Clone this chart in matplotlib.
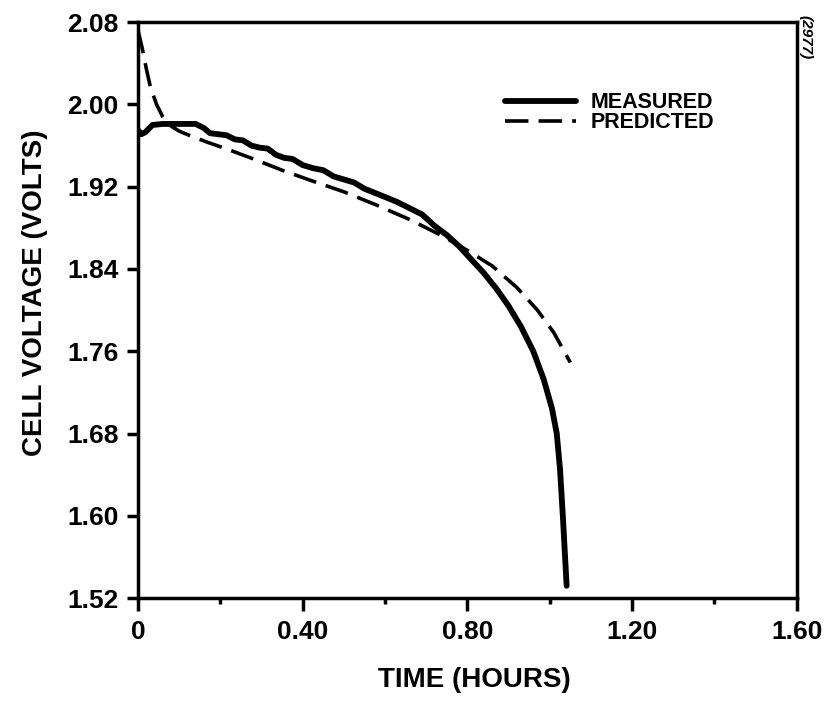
import matplotlib.pyplot as plt
from matplotlib.ticker import MultipleLocator

plt.rcParams['font.family'] = ['Liberation Sans', 'DejaVu Sans']
plt.rcParams['font.weight'] = 'bold'

# measured cell voltage
t_meas = [0, 0.008, 0.018, 0.035, 0.06, 0.10, 0.14, 0.16, 0.175, 0.195, 0.215, 0.235,
          0.255, 0.275, 0.295, 0.315, 0.335, 0.355, 0.375, 0.40, 0.425, 0.45, 0.475, 0.50,
          0.525, 0.55, 0.575, 0.60, 0.63, 0.66, 0.69, 0.72, 0.75, 0.78, 0.81, 0.84,
          0.87, 0.90, 0.93, 0.96, 0.985, 1.005, 1.017, 1.025, 1.032, 1.041]
v_meas = [1.975, 1.971, 1.973, 1.980, 1.981, 1.981, 1.981, 1.977, 1.972, 1.971, 1.970, 1.966,
          1.965, 1.960, 1.958, 1.957, 1.951, 1.948, 1.947, 1.941, 1.938, 1.936, 1.930, 1.927,
          1.924, 1.918, 1.914, 1.910, 1.905, 1.899, 1.893, 1.882, 1.873, 1.862, 1.849, 1.836,
          1.821, 1.804, 1.784, 1.760, 1.733, 1.705, 1.680, 1.645, 1.598, 1.532]

# model prediction
t_pred = [0, 0.01, 0.02, 0.03, 0.045, 0.06, 0.08, 0.10, 0.13, 0.17, 0.22, 0.28,
          0.35, 0.42, 0.50, 0.58, 0.66, 0.74, 0.80, 0.86, 0.92, 0.97, 1.01, 1.05]
v_pred = [2.072, 2.055, 2.035, 2.017, 2.000, 1.988, 1.979, 1.974, 1.969, 1.963, 1.956, 1.947,
          1.936, 1.926, 1.915, 1.902, 1.888, 1.872, 1.858, 1.843, 1.822, 1.800, 1.778, 1.749]

x_ticks = [0, 0.4, 0.8, 1.2, 1.6]
x_labels = ['0', '0.40', '0.80', '1.20', '1.60']
y_ticks = [1.52, 1.60, 1.68, 1.76, 1.84, 1.92, 2.00, 2.08]

fig = plt.figure(figsize=(8.24, 7.02), dpi=100)
ax = fig.add_axes([0.1675, 0.148, 0.7995, 0.8205])

ax.plot(t_meas, v_meas, color='black', lw=4.2, solid_joinstyle='round',
        solid_capstyle='round', label='MEASURED')
ax.plot(t_pred, v_pred, color='black', lw=2.6, dashes=(6.5, 2.8), label='PREDICTED')

ax.set_xlim(0, 1.6)
ax.set_ylim(1.52, 2.08)
ax.set_xticks(x_ticks)
ax.set_xticklabels(x_labels)
ax.xaxis.set_minor_locator(MultipleLocator(0.2))
ax.set_yticks(y_ticks)
ax.set_yticklabels([f'{y:.2f}' for y in y_ticks])

for s in ax.spines.values():
    s.set_linewidth(2.5)
ax.tick_params(axis='x', which='major', direction='out', length=9, width=2.5,
               labelsize=19, pad=7)
ax.tick_params(axis='x', which='minor', direction='out', length=4.5, width=2.5)
ax.tick_params(axis='y', direction='out', length=8, width=2.5, labelsize=19, pad=6)

ax.set_xlabel('TIME (HOURS)', fontsize=20, fontweight='bold')
ax.set_ylabel('CELL VOLTAGE (VOLTS)', fontsize=20, fontweight='bold')
ax.xaxis.set_label_coords(0.51, -0.12)
ax.yaxis.set_label_coords(-0.137, 0.53)

ax.legend(loc='upper left', bbox_to_anchor=(0.557, 0.878), frameon=False,
          prop={'weight': 'bold', 'size': 15.5}, handlelength=3.3, handletextpad=0.7,
          labelspacing=-0.05, borderpad=0, borderaxespad=0)

fig.text(0.977, 0.947, '(2977)', rotation=270, fontsize=11, style='italic',
         fontweight='bold', ha='center', va='center')

fig.savefig('out.png', dpi=100, facecolor='white')
